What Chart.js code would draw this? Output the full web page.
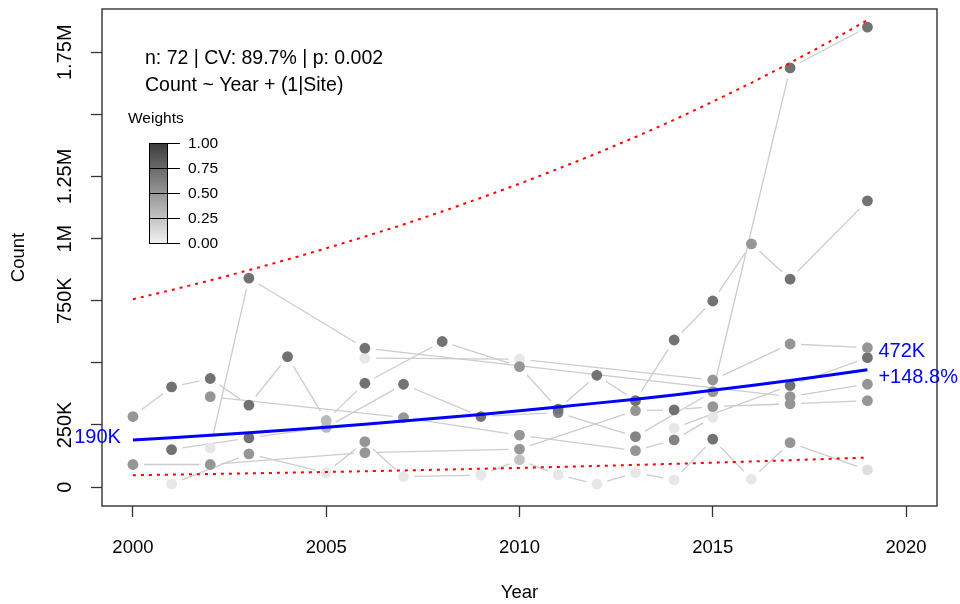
<!DOCTYPE html>
<html>
<head>
<meta charset="utf-8">
<script src="https://cdn.jsdelivr.net/npm/chart.js@4/dist/chart.umd.min.js"></script>
<style>
  html, body { margin: 0; padding: 0; background: #ffffff; }
  #wrap { width: 960px; height: 604px; position: relative; }
</style>
</head>
<body>
<div id="wrap"><canvas id="chart"></canvas></div>
<script>
const FONT = '"Liberation Sans", Arial, Helvetica, sans-serif';

// Fitted trend and its confidence band, one value per year
const trendYears  = [2000, 2001, 2002, 2003, 2004, 2005, 2006, 2007, 2008, 2009,
                     2010, 2011, 2012, 2013, 2014, 2015, 2016, 2017, 2018, 2019];
const trendCounts = [190000, 199000, 209000, 219000, 230000, 241000, 253000, 266000, 279000, 292000,
                     307000, 322000, 338000, 354000, 371000, 390000, 409000, 429000, 450000, 472000];
const upperCounts = [756000, 793000, 832000, 873000, 916000, 961000, 1008000, 1057000, 1109000, 1164000,
                     1221000, 1281000, 1343000, 1409000, 1478000, 1551000, 1627000, 1707000, 1791000, 1879000];
const lowerCounts = [48000, 50300, 52800, 55400, 58100, 61000, 63900, 67100, 70400, 73800,
                     77400, 81200, 85200, 89400, 93800, 98400, 103200, 108300, 113600, 119200];

// Survey counts (thousands) per site, with the observation weights
const siteYears = [
  [2000, 2001, 2002, 2003, 2004, 2005, 2006, 2008, 2010, 2011, 2012, 2013, 2014, 2015, 2016, 2017, 2019],
  [2002, 2003, 2006, 2017, 2019],
  [2002, 2007, 2010, 2013, 2014, 2015],
  [2000, 2002, 2006, 2010, 2013, 2014, 2015, 2017, 2019],
  [2001, 2003, 2005, 2007, 2009, 2011, 2013, 2015, 2017, 2019],
  [2001, 2003, 2005, 2006, 2007, 2009, 2010, 2011, 2012, 2013, 2014, 2015, 2016, 2017, 2019],
  [2006, 2010, 2015, 2017, 2019],
  [2014, 2017, 2019]
];
const siteCounts = [
  [284, 403, 437, 330, 525, 268, 418, 586, 485, 314, 450, 348, 592, 749, 979, 837, 1152],
  [158, 841, 559, 364, 414],
  [364, 280, 209, 147, 190, 281],
  [91, 91, 139, 153, 308, 311, 324, 335, 348],
  [151, 198, 240, 414, 284, 300, 203, 384, 1687, 1851],
  [13, 134, 58, 183, 42, 48, 110, 49, 12, 58, 29, 193, 32, 179, 69],
  [519, 515, 431, 576, 561],
  [237, 409, 521]
];
const siteWeights = [
  [0.5, 0.7, 0.7, 0.7, 0.7, 0.3, 0.7, 0.7, 0.5, 0.7, 0.7, 0.7, 0.7, 0.7, 0.5, 0.7, 0.7],
  [0.05, 0.7, 0.7, 0.5, 0.5],
  [0.5, 0.5, 0.5, 0.5, 0.6, 0.05],
  [0.5, 0.5, 0.5, 0.5, 0.5, 0.7, 0.5, 0.5, 0.5],
  [0.7, 0.7, 0.3, 0.7, 0.7, 0.6, 0.6, 0.5, 0.7, 0.7],
  [0.05, 0.5, 0.05, 0.5, 0.05, 0.05, 0.25, 0.05, 0.05, 0.05, 0.05, 0.7, 0.05, 0.5, 0.1],
  [0.05, 0.05, 0.5, 0.5, 0.5],
  [0.05, 0.7, 0.7]
];

// Axis ticks and labels
const xTicks = [2000, 2005, 2010, 2015, 2020];
const yTicks = [0, 250000, 500000, 750000, 1000000, 1250000, 1500000, 1750000];
const yTickLabels = ['0', '250K', '', '750K', '1M', '1.25M', '', '1.75M'];
const legendTicks = [0, 0.25, 0.5, 0.75, 1];
const legendLabels = ['0.00', '0.25', '0.50', '0.75', '1.00'];

// Annotation text
const statsLine = 'n: 72 | CV: 89.7% | p: 0.002';
const formulaLine = 'Count ~ Year + (1|Site)';
const startLabel = '190K';
const endLabel = '472K';
const changeLabel = '+148.8%';

const shade = w => {
  const g = Math.round(240 - 180 * w);
  return `rgb(${g},${g},${g})`;
};

const siteDatasets = siteYears.map((yrs, i) => ({
  type: 'scatter',
  isSite: true,
  data: yrs.map((yr, k) => ({ x: yr, y: siteCounts[i][k] * 1000 })),
  pointRadius: 5.4,
  pointHoverRadius: 5.4,
  pointBorderWidth: 0,
  pointBackgroundColor: siteWeights[i].map(shade),
  showLine: false,
  order: 2
}));

const bandLine = values => ({
  type: 'line',
  data: trendYears.map((yr, k) => ({ x: yr, y: values[k] })),
  borderColor: '#ff0000',
  borderWidth: 2,
  borderDash: [3, 5],
  pointRadius: 0,
  fill: false,
  order: 0
});

// Grey connectors between a site's successive surveys, stopping short of the markers
const siteLines = {
  id: 'siteLines',
  beforeDatasetsDraw(chart) {
    const ctx = chart.ctx, gap = 11;
    ctx.save();
    ctx.strokeStyle = '#cccccc';
    ctx.lineWidth = 1.3;
    chart.data.datasets.forEach((ds, i) => {
      if (!ds.isSite) return;
      const pts = chart.getDatasetMeta(i).data;
      for (let k = 1; k < pts.length; k++) {
        const a = pts[k - 1], b = pts[k];
        const dx = b.x - a.x, dy = b.y - a.y, len = Math.hypot(dx, dy);
        if (len <= 2 * gap) continue;
        const ux = dx / len, uy = dy / len;
        ctx.beginPath();
        ctx.moveTo(a.x + ux * gap, a.y + uy * gap);
        ctx.lineTo(b.x - ux * gap, b.y - uy * gap);
        ctx.stroke();
      }
    });
    ctx.restore();
  }
};

// Frame, rotated y labels, stats text, weight key and trend labels
const decorations = {
  id: 'decorations',
  afterDraw(chart) {
    const ctx = chart.ctx, area = chart.chartArea;
    const xs = chart.scales.x, ys = chart.scales.y;
    ctx.save();

    ctx.strokeStyle = '#333333';
    ctx.lineWidth = 1.4;
    ctx.strokeRect(area.left, area.top, area.right - area.left, area.bottom - area.top);

    ctx.fillStyle = '#000000';
    ctx.font = `20px ${FONT}`;
    ctx.textAlign = 'center';
    ctx.textBaseline = 'middle';
    yTicks.forEach((v, i) => {
      if (!yTickLabels[i]) return;
      ctx.save();
      ctx.translate(65, ys.getPixelForValue(v));
      ctx.rotate(-Math.PI / 2);
      ctx.fillText(yTickLabels[i], 0, 0);
      ctx.restore();
    });

    ctx.textAlign = 'left';
    ctx.font = `19.5px ${FONT}`;
    ctx.fillText(statsLine, 145, 59);
    ctx.fillText(formulaLine, 145, 86);

    // weight key
    ctx.font = `15.5px ${FONT}`;
    ctx.fillText('Weights', 128, 119);
    const bx = 149, bw = 18, bTop = 143, bBot = 243;
    const grad = ctx.createLinearGradient(0, bTop, 0, bBot);
    grad.addColorStop(0, shade(1));
    grad.addColorStop(1, shade(0));
    ctx.fillStyle = grad;
    ctx.fillRect(bx, bTop, bw, bBot - bTop);
    ctx.strokeStyle = '#000000';
    ctx.lineWidth = 1;
    ctx.strokeRect(bx + 0.5, bTop + 0.5, bw, bBot - bTop);
    ctx.fillStyle = '#000000';
    legendTicks.forEach((t, i) => {
      const y = Math.round(bBot - t * (bBot - bTop)) + 0.5;
      ctx.beginPath();
      ctx.moveTo(bx, y);
      ctx.lineTo(bx + bw + 13, y);
      ctx.stroke();
      ctx.fillText(legendLabels[i], 188, y);
    });

    // trend start / end labels
    const n = trendYears.length;
    const x0 = xs.getPixelForValue(trendYears[0]), y0 = ys.getPixelForValue(trendCounts[0]);
    const x1 = xs.getPixelForValue(trendYears[n - 1]), y1 = ys.getPixelForValue(trendCounts[n - 1]);
    ctx.fillStyle = '#0000ff';
    ctx.font = `20px ${FONT}`;
    ctx.textAlign = 'right';
    ctx.fillText(startLabel, x0 - 12, y0 - 2);
    ctx.textAlign = 'left';
    ctx.fillText(endLabel, x1 + 11, y1 - 18);
    ctx.fillText(changeLabel, x1 + 11, y1 + 8);

    ctx.restore();
  }
};

new Chart(document.getElementById('chart'), {
  data: {
    datasets: [
      {
        type: 'line',
        data: trendYears.map((yr, k) => ({ x: yr, y: trendCounts[k] })),
        borderColor: '#0000ff',
        borderWidth: 3,
        pointRadius: 0,
        fill: false,
        order: 0
      },
      bandLine(upperCounts),
      bandLine(lowerCounts),
      ...siteDatasets
    ]
  },
  options: {
    responsive: true,
    maintainAspectRatio: false,
    animation: false,
    devicePixelRatio: 1,
    layout: { padding: { left: 0, top: 9, right: 23, bottom: 0 } },
    plugins: { legend: { display: false }, tooltip: { enabled: false } },
    scales: {
      x: {
        type: 'linear',
        min: 1999.2,
        max: 2020.8,
        afterBuildTicks: s => { s.ticks = xTicks.map(v => ({ value: v })); },
        afterFit: s => { s.height = 98; },
        grid: { drawOnChartArea: false, drawTicks: true, tickLength: 11, tickColor: '#333333', tickWidth: 1.3 },
        border: { display: false },
        ticks: {
          font: { family: FONT, size: 18.5 }, color: '#000000', padding: 20,
          maxRotation: 0, autoSkip: false, callback: v => String(v)
        },
        title: { display: true, text: 'Year', font: { family: FONT, size: 18.5 }, color: '#000000', padding: { top: 0, bottom: 0 } }
      },
      y: {
        type: 'linear',
        min: -76000,
        max: 1924000,
        afterBuildTicks: s => { s.ticks = yTicks.map(v => ({ value: v })); },
        afterFit: s => { s.width = 102; },
        grid: { drawOnChartArea: false, drawTicks: true, tickLength: 11, tickColor: '#333333', tickWidth: 1.3 },
        border: { display: false },
        ticks: { display: false },
        title: { display: true, text: 'Count', font: { family: FONT, size: 18.5 }, color: '#000000', padding: { top: 8, bottom: 0 } }
      }
    }
  },
  plugins: [siteLines, decorations]
});
</script>
</body>
</html>
